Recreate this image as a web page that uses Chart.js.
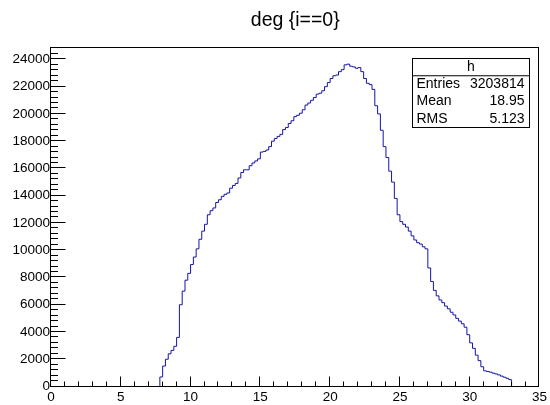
<!DOCTYPE html>
<html>
<head>
<meta charset="utf-8">
<script src="https://cdn.jsdelivr.net/npm/chart.js@4.4.0/dist/chart.umd.min.js"></script>
<style>
html, body { margin: 0; padding: 0; background: #fff; }
</style>
</head>
<body>
<canvas id="deg" width="550" height="405"></canvas>
<script>
// histogram "h" : bins of 0.2 starting at 7.6, contents
const histTitle = 'deg {i==0}';
const histName = 'h';
const binLow = 7.6;
const binWidth = 0.2;
const counts = [
    700, 1500, 2000, 2400, 2650, 2950, 3600, 6000, 7000, 7800,
    8300, 8950, 9500, 10100, 10800, 11400, 11900, 12600, 12900, 13100,
    13500, 13700, 13950, 14100, 14200, 14550, 14750, 14900, 15300, 15700,
    15900, 15900, 16200, 16400, 16550, 16700, 17200, 17250, 17350, 17600,
    18000, 18200, 18350, 18500, 18850, 19000, 19300, 19500, 19800, 19900,
    20050, 20300, 20650, 20800, 21000, 21200, 21450, 21520, 21700, 22000,
    22300, 22600, 22800, 22850, 23100, 23250, 23600, 23650, 23500, 23450,
    23350, 23400, 23100, 22600, 22250, 22150, 21800, 20600, 20000, 18800,
    17600, 16800, 15800, 15000, 13800, 12600, 12100, 11900, 11700, 11400,
    11050, 10750, 10550, 10450, 10250, 10100, 8700, 7700, 7050, 6650,
    6350, 6150, 5900, 5700, 5450, 5250, 5000, 4800, 4600, 4350,
    3800, 3200, 2800, 2300, 1900, 1450, 1150, 1100, 1050, 980,
    920, 850, 760, 680, 600, 500, 350
];
const xRange = [0, 35];
const yRange = [0, 24880];
const xTickValues = [0, 5, 10, 15, 20, 25, 30, 35];
const yTickValues = [0, 2000, 4000, 6000, 8000, 10000, 12000, 14000, 16000, 18000, 20000, 22000, 24000];
const statLabels = ['Entries', 'Mean', 'RMS'];
const statValues = ['3203814', '18.95', '5.123'];

const fontFamily = '"Liberation Sans", Arial, sans-serif';
const lineColor = '#1414aa';

// step line: start at the low edge from 0, one point per bin upper edge, drop back to 0
let points = [{ x: binLow, y: 0 }];
counts.forEach(function (c, i) {
    points.push({ x: binLow + (i + 1) * binWidth, y: c });
});
points.push({ x: binLow + counts.length * binWidth, y: 0 });

function line(ctx, x1, y1, x2, y2) {
    ctx.beginPath();
    ctx.moveTo(x1, y1);
    ctx.lineTo(x2, y2);
    ctx.stroke();
}

const rootFrame = {
    id: 'rootFrame',
    afterDraw(chart) {
        const ctx = chart.ctx;
        const area = chart.chartArea;
        const xs = chart.scales.x;
        const ys = chart.scales.y;
        const left = Math.round(area.left) - 0.5;
        const right = Math.round(area.right) - 0.5;
        const top = Math.round(area.top) + 0.5;
        const bottom = Math.round(area.bottom) - 0.5;

        ctx.save();
        ctx.strokeStyle = '#000';
        ctx.lineWidth = 1;
        ctx.strokeRect(left, top, right - left, bottom - top);

        // x ticks, inside the frame
        for (let v = xRange[0]; v <= xRange[1]; v++) {
            let px = Math.round(xs.getPixelForValue(v)) - 0.5;
            let len = v % 5 === 0 ? 10 : 5;
            line(ctx, px, bottom, px, bottom - len);
        }
        // y ticks
        for (let v = yRange[0]; v <= yRange[1]; v += 400) {
            let py = Math.round(ys.getPixelForValue(v)) - 0.5;
            let len = v % 2000 === 0 ? 15 : 7.5;
            line(ctx, left, py, left + len, py);
        }

        // stat box
        const bx = 412.5, by = 58.5, bw = 117, rowH = 17.25;
        const bh = rowH * (statLabels.length + 1);
        ctx.fillStyle = '#fff';
        ctx.fillRect(bx, by, bw, bh);
        ctx.strokeRect(bx, by, bw, bh);
        line(ctx, bx, by + rowH, bx + bw, by + rowH);
        ctx.fillStyle = '#000';
        ctx.font = '14px ' + fontFamily;
        ctx.textBaseline = 'middle';
        ctx.textAlign = 'center';
        ctx.fillText(histName, bx + bw / 2, by + rowH / 2);
        statLabels.forEach(function (lab, i) {
            let cy = by + rowH * (i + 1.5);
            ctx.textAlign = 'left';
            ctx.fillText(lab, bx + 4, cy);
            ctx.textAlign = 'right';
            ctx.fillText(statValues[i], bx + bw - 5, cy);
        });
        ctx.restore();
    }
};

let ctx = document.getElementById('deg').getContext('2d');

let degChart = new Chart(ctx, {
    type: 'line',
    data: {
        datasets: [{
            data: points,
            stepped: 'before',
            borderColor: lineColor,
            borderWidth: 1,
            pointRadius: 0,
            fill: false
        }]
    },
    options: {
        responsive: false,
        animation: false,
        devicePixelRatio: 1,
        layout: { padding: { left: 0, right: 7, top: 0, bottom: 0 } },
        plugins: {
            legend: { display: false },
            tooltip: { enabled: false },
            title: {
                display: true,
                text: histTitle,
                fullSize: false,
                color: '#000',
                font: { family: fontFamily, size: 19.5, weight: 'normal' },
                padding: { top: 9, bottom: 15 }
            }
        },
        scales: {
            x: {
                type: 'linear',
                min: xRange[0],
                max: xRange[1],
                grid: { display: false, drawTicks: false },
                border: { display: false },
                afterBuildTicks: function (scale) {
                    scale.ticks = xTickValues.map(v => ({ value: v }));
                },
                ticks: {
                    padding: 3,
                    maxRotation: 0,
                    autoSkip: false,
                    color: '#000',
                    font: { family: fontFamily, size: 13.5 }
                },
                afterFit: function (scale) { scale.height = 18.5; }
            },
            y: {
                min: yRange[0],
                max: yRange[1],
                grid: { display: false, drawTicks: false },
                border: { display: false },
                afterBuildTicks: function (scale) {
                    scale.ticks = yTickValues.map(v => ({ value: v }));
                },
                ticks: {
                    autoSkip: false,
                    padding: 1,
                    color: '#000',
                    font: { family: fontFamily, size: 13.5 },
                    callback: function (value) { return String(value); }
                },
                afterFit: function (scale) { scale.width = 51; }
            }
        }
    },
    plugins: [rootFrame]
});
</script>
</body>
</html>
